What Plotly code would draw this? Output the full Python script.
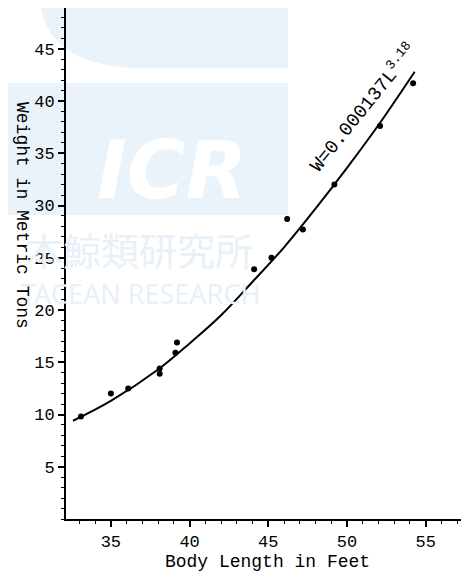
import plotly.graph_objects as go

# Observed data points (body length in feet, weight in metric tons)
body_length = [33.1, 35.0, 36.1, 38.1, 38.1, 39.2, 39.1, 44.1, 45.2, 46.2, 47.2, 49.2, 52.1, 54.2]
weight_tons = [9.8, 12.0, 12.5, 14.4, 13.9, 16.9, 15.9, 23.9, 25.0, 28.7, 27.7, 32.0, 37.6, 41.7]

# Fitted curve as drawn on the chart
curve_length = [32.6, 35.0, 38.0, 40.0, 42.0, 44.0, 46.0, 48.0, 50.0, 52.0, 54.3]
curve_weight = [9.4, 11.3, 14.3, 16.8, 19.5, 22.7, 26.0, 29.7, 33.6, 37.7, 42.8]

x_ticks = [35, 40, 45, 50, 55]
y_ticks = [5, 10, 15, 20, 25, 30, 35, 40, 45]

equation_text = "W=0.000137L<sup>3.18</sup>"
x_title = "Body Length in Feet"
y_title = "Weight in Metric Tons"

MONO = "Liberation Mono, Courier New, monospace"

# The page body adds an 8px offset, so the figure is sized to fill the rest
OFF = 8
W, H = 469 - OFF, 574 - OFF
L_M, R_M, T_M, B_M = 58, 0, 0, 55
PW, PH = W - L_M - R_M, H - T_M - B_M


def px(xp):
    # page pixel x -> paper coordinate
    return (xp - OFF - L_M) / PW


def py(yp):
    # page pixel y -> paper coordinate
    return (H - B_M - (yp - OFF)) / PH


fig = go.Figure()

fig.add_trace(go.Scatter(
    x=curve_length, y=curve_weight, mode="lines",
    line=dict(color="black", width=2, shape="spline", smoothing=1.0),
    hoverinfo="skip", showlegend=False,
))
fig.add_trace(go.Scatter(
    x=body_length, y=weight_tons, mode="markers",
    marker=dict(color="black", size=6),
    showlegend=False,
))

# Faint watermark in the background (visible part of the scan's logo)
wm_fill = "#ebf3fa"
wm_text = "#e8f0f8"
fig.add_shape(type="path", xref="paper", yref="paper", layer="below",
              path=f"M {px(40)},{py(0)} L {px(288)},{py(0)} L {px(288)},{py(68)} "
                   f"L {px(130)},{py(68)} Q {px(45)},{py(62)} {px(40)},{py(0)} Z",
              fillcolor=wm_fill, line=dict(width=0))
fig.add_shape(type="rect", xref="paper", yref="paper", layer="below",
              x0=px(0), x1=px(288), y0=py(215), y1=py(83),
              fillcolor=wm_fill, line=dict(width=0))
fig.add_annotation(xref="paper", yref="paper", x=px(172), y=py(170),
                   xanchor="center", yanchor="middle",
                   text="<b><i>ICR</i></b>", showarrow=False,
                   font=dict(family="DejaVu Sans", size=80, color="white"))
fig.add_annotation(xref="paper", yref="paper", x=px(255), y=py(248),
                   xanchor="right", yanchor="middle", text="本鯨類研究所", showarrow=False,
                   font=dict(family="Noto Sans CJK JP", size=38, color=wm_text))
fig.add_annotation(xref="paper", yref="paper", x=px(262), y=py(293),
                   xanchor="right", yanchor="middle", text="TACEAN RESEARCH", showarrow=False,
                   font=dict(family="Noto Sans, Liberation Sans", size=27, color=wm_text))

# Equation label along the curve
fig.add_annotation(x=51.0, y=39.4, text=equation_text, showarrow=False,
                   xanchor="center", yanchor="middle", textangle=-51,
                   font=dict(family=MONO, size=19, color="black"))

# Y axis title reading top-to-bottom
fig.add_annotation(xref="paper", yref="paper", x=px(22), y=py(215),
                   xanchor="center", yanchor="middle",
                   text=y_title, showarrow=False, textangle=90,
                   font=dict(family=MONO, size=18, color="black"))

fig.update_layout(
    width=W, height=H,
    margin=dict(l=L_M, r=R_M, t=T_M, b=B_M, pad=0, autoexpand=False),
    paper_bgcolor="white", plot_bgcolor="rgba(0,0,0,0)",
    showlegend=False,
    xaxis=dict(
        range=[32.15, 57.75], tickvals=x_ticks,
        ticktext=[str(v) for v in x_ticks],
        showgrid=False, zeroline=False, automargin=False,
        showline=True, linecolor="black", linewidth=2,
        ticks="outside", ticklen=6, tickwidth=1.5, tickcolor="black",
        minor=dict(dtick=1, ticks="outside", ticklen=3, tickwidth=1.2, tickcolor="black"),
        tickfont=dict(family=MONO, size=17, color="black"),
        title=dict(text=x_title, standoff=2,
                   font=dict(family=MONO, size=18, color="black")),
    ),
    yaxis=dict(
        range=[0, 48.9], tickvals=y_ticks,
        ticktext=[str(v) for v in y_ticks],
        showgrid=False, zeroline=False, automargin=False,
        showline=True, linecolor="black", linewidth=2,
        ticks="outside", ticklen=6, tickwidth=1.5, tickcolor="black",
        minor=dict(dtick=1, ticks="outside", ticklen=3, tickwidth=1.2, tickcolor="black"),
        tickfont=dict(family=MONO, size=17, color="black"),
    ),
)

fig.write_html("out.html")
